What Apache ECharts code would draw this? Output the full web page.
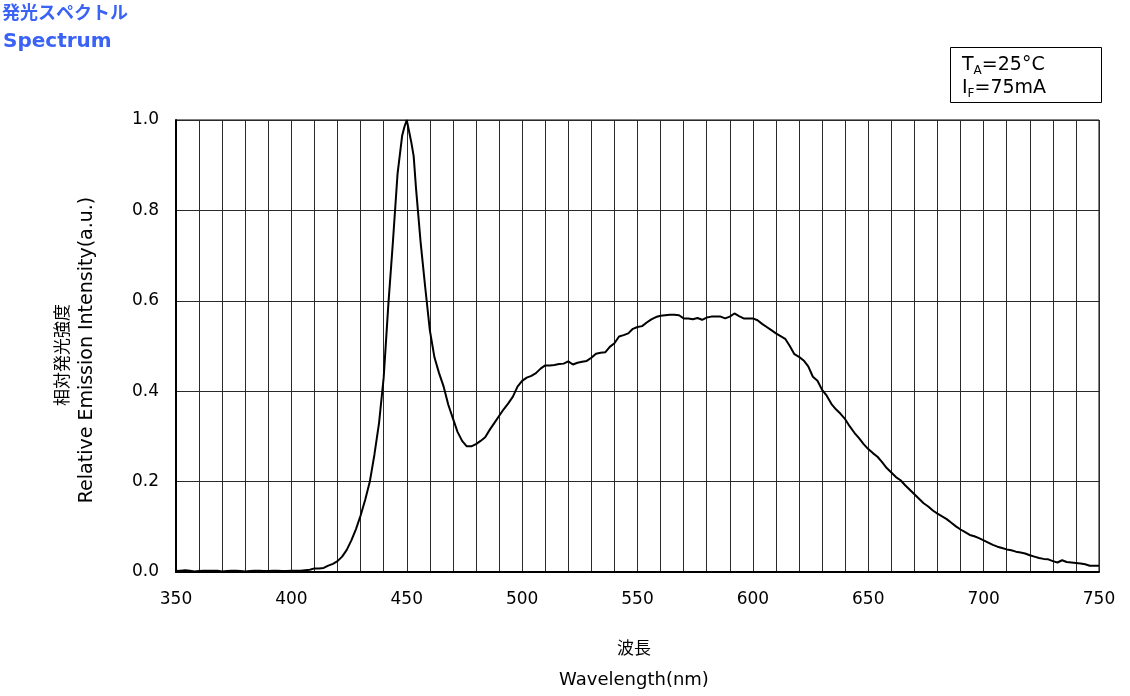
<!DOCTYPE html>
<html>
<head>
<meta charset="utf-8">
<script src="https://cdn.jsdelivr.net/npm/echarts@6/dist/echarts.min.js"></script>
<style>html,body{margin:0;padding:0;background:#fff;}#c{width:1130px;height:696px;}</style>
</head>
<body>
<div id="c"></div>
<script>
const wavelengths = [350,352,354,356,358,360,362,364,366,368,370,372,374,376,378,380,382,384,386,388,390,392,394,396,398,400,402,404,406,408,410,412,414,416,418,420,422,424,426,428,430,432,434,436,438,440,442,444,446,448,449,450,451,452,453,454,456,458,460,462,464,466,468,470,472,474,476,478,480,482,484,486,488,490,492,494,496,498,500,502,504,506,508,510,512,514,516,518,520,522,524,526,528,530,532,534,536,538,540,542,544,546,548,550,552,554,556,558,560,562,564,566,568,570,572,574,576,578,580,582,584,586,588,590,592,594,596,598,600,602,604,606,608,610,612,614,616,618,620,622,624,626,628,630,632,634,636,638,640,642,644,646,648,650,652,654,656,658,660,662,664,666,668,670,672,674,676,678,680,682,684,686,688,690,692,694,696,698,700,702,704,706,708,710,712,714,716,718,720,722,724,726,728,730,732,734,736,738,740,742,744,746,748,750];
const intensity = [0.002,0.003,0.004,0.003,0.001,0.002,0.003,0.003,0.003,0.003,0.001,0.002,0.003,0.003,0.002,0.001,0.002,0.003,0.003,0.002,0.002,0.003,0.003,0.002,0.002,0.003,0.003,0.003,0.004,0.005,0.008,0.008,0.009,0.014,0.018,0.024,0.034,0.049,0.07,0.095,0.125,0.16,0.2,0.26,0.33,0.43,0.59,0.73,0.88,0.965,0.985,1.0,0.975,0.95,0.92,0.85,0.73,0.63,0.535,0.475,0.44,0.41,0.37,0.34,0.31,0.29,0.278,0.278,0.283,0.29,0.298,0.315,0.33,0.345,0.36,0.373,0.388,0.41,0.423,0.43,0.434,0.44,0.45,0.457,0.457,0.458,0.46,0.461,0.466,0.459,0.463,0.465,0.467,0.474,0.483,0.485,0.486,0.498,0.506,0.521,0.524,0.528,0.538,0.542,0.544,0.552,0.559,0.564,0.567,0.568,0.569,0.569,0.568,0.561,0.561,0.559,0.562,0.558,0.563,0.565,0.565,0.565,0.561,0.565,0.572,0.566,0.561,0.561,0.561,0.557,0.549,0.542,0.535,0.528,0.522,0.516,0.5,0.482,0.476,0.468,0.455,0.432,0.423,0.403,0.39,0.372,0.36,0.35,0.338,0.322,0.308,0.296,0.283,0.272,0.263,0.255,0.243,0.23,0.22,0.21,0.203,0.192,0.182,0.172,0.162,0.152,0.145,0.136,0.129,0.123,0.117,0.109,0.101,0.094,0.088,0.082,0.079,0.075,0.07,0.065,0.06,0.056,0.053,0.05,0.048,0.045,0.043,0.041,0.037,0.034,0.031,0.029,0.028,0.024,0.021,0.026,0.022,0.021,0.02,0.019,0.017,0.014,0.014,0.014];
const xTickLabels = [350,400,450,500,550,600,650,700,750];
const yTickLabels = ['0.0','0.2','0.4','0.6','0.8','1.0'];
const titleJa = '発光スペクトル';
const titleEn = 'Spectrum';
const yNameJa = '相対発光強度';
const yNameEn = 'Relative Emission Intensity(a.u.)';
const xNameJa = '波長';
const xNameEn = 'Wavelength(nm)';

const seriesData = wavelengths.map((w, i) => [w, intensity[i]]);
const font = '"DejaVu Sans", Verdana, sans-serif';
const cjk = '"Noto Sans CJK JP", sans-serif';

const chart = echarts.init(document.getElementById('c'), null, {renderer: 'canvas'});
chart.setOption({
  animation: false,
  backgroundColor: '#fff',
  grid: {left: 176, right: 31, top: 120, bottom: 124, show: true, borderColor: '#000', borderWidth: 1},
  xAxis: {
    type: 'value', min: 350, max: 750, interval: 10,
    axisLine: {show: true, onZero: false, lineStyle: {color: '#000', width: 2}},
    axisTick: {show: false},
    splitLine: {show: true, lineStyle: {color: '#2a2a2a', width: 1}},
    axisLabel: {
      margin: 19, color: '#000', fontSize: 17, fontFamily: font,
      formatter: v => xTickLabels.indexOf(v) >= 0 ? String(v) : ''
    }
  },
  yAxis: {
    type: 'value', min: 0, max: 1, interval: 0.2,
    axisLine: {show: true, onZero: false, lineStyle: {color: '#000', width: 2}},
    axisTick: {show: false},
    splitLine: {show: true, lineStyle: {color: '#2a2a2a', width: 1}},
    axisLabel: {
      margin: 17, color: '#000', fontSize: 17, fontFamily: font, padding: [4, 0, 0, 0],
      formatter: v => yTickLabels[Math.round(v / 0.2)]
    }
  },
  series: [{
    type: 'line', data: seriesData, showSymbol: false, smooth: false,
    lineStyle: {color: '#000', width: 2}, z: 5
  }],
  graphic: [
    {type: 'text', left: 2, top: 3, style: {text: titleJa, fill: '#3a63f5', font: 'bold 18px ' + cjk}},
    {type: 'text', left: 3, top: 32, style: {text: titleEn, fill: '#3a63f5', font: 'bold 20px ' + font}},
    {type: 'rect', shape: {x: 950.5, y: 47.5, width: 151, height: 55}, style: {fill: '#fff', stroke: '#000', lineWidth: 1}},
    {type: 'text', x: 962, y: 54, style: {
      rich: {
        m: {fontSize: 19, fontFamily: font, fill: '#000', lineHeight: 23},
        s: {fontSize: 12, fontFamily: font, fill: '#000', lineHeight: 23, verticalAlign: 'bottom', padding: [9,0,0,0]}
      },
      text: '{m|T}{s|A}{m|=25°C}\n{m|I}{s|F}{m|=75mA}'
    }},
    {type: 'text', x: 62, y: 355, rotation: Math.PI / 2, style: {text: yNameJa, fill: '#000', font: '17px ' + cjk, align: 'center', verticalAlign: 'middle'}},
    {type: 'text', x: 87, y: 350, rotation: Math.PI / 2, style: {text: yNameEn, fill: '#000', font: '19px ' + font, align: 'center', verticalAlign: 'middle'}},
    {type: 'text', x: 634, y: 648, style: {text: xNameJa, fill: '#000', font: '17px ' + cjk, align: 'center', verticalAlign: 'middle'}},
    {type: 'text', x: 634, y: 680, style: {text: xNameEn, fill: '#000', font: '18px ' + font, align: 'center', verticalAlign: 'middle'}}
  ]
});
</script>
</body>
</html>
